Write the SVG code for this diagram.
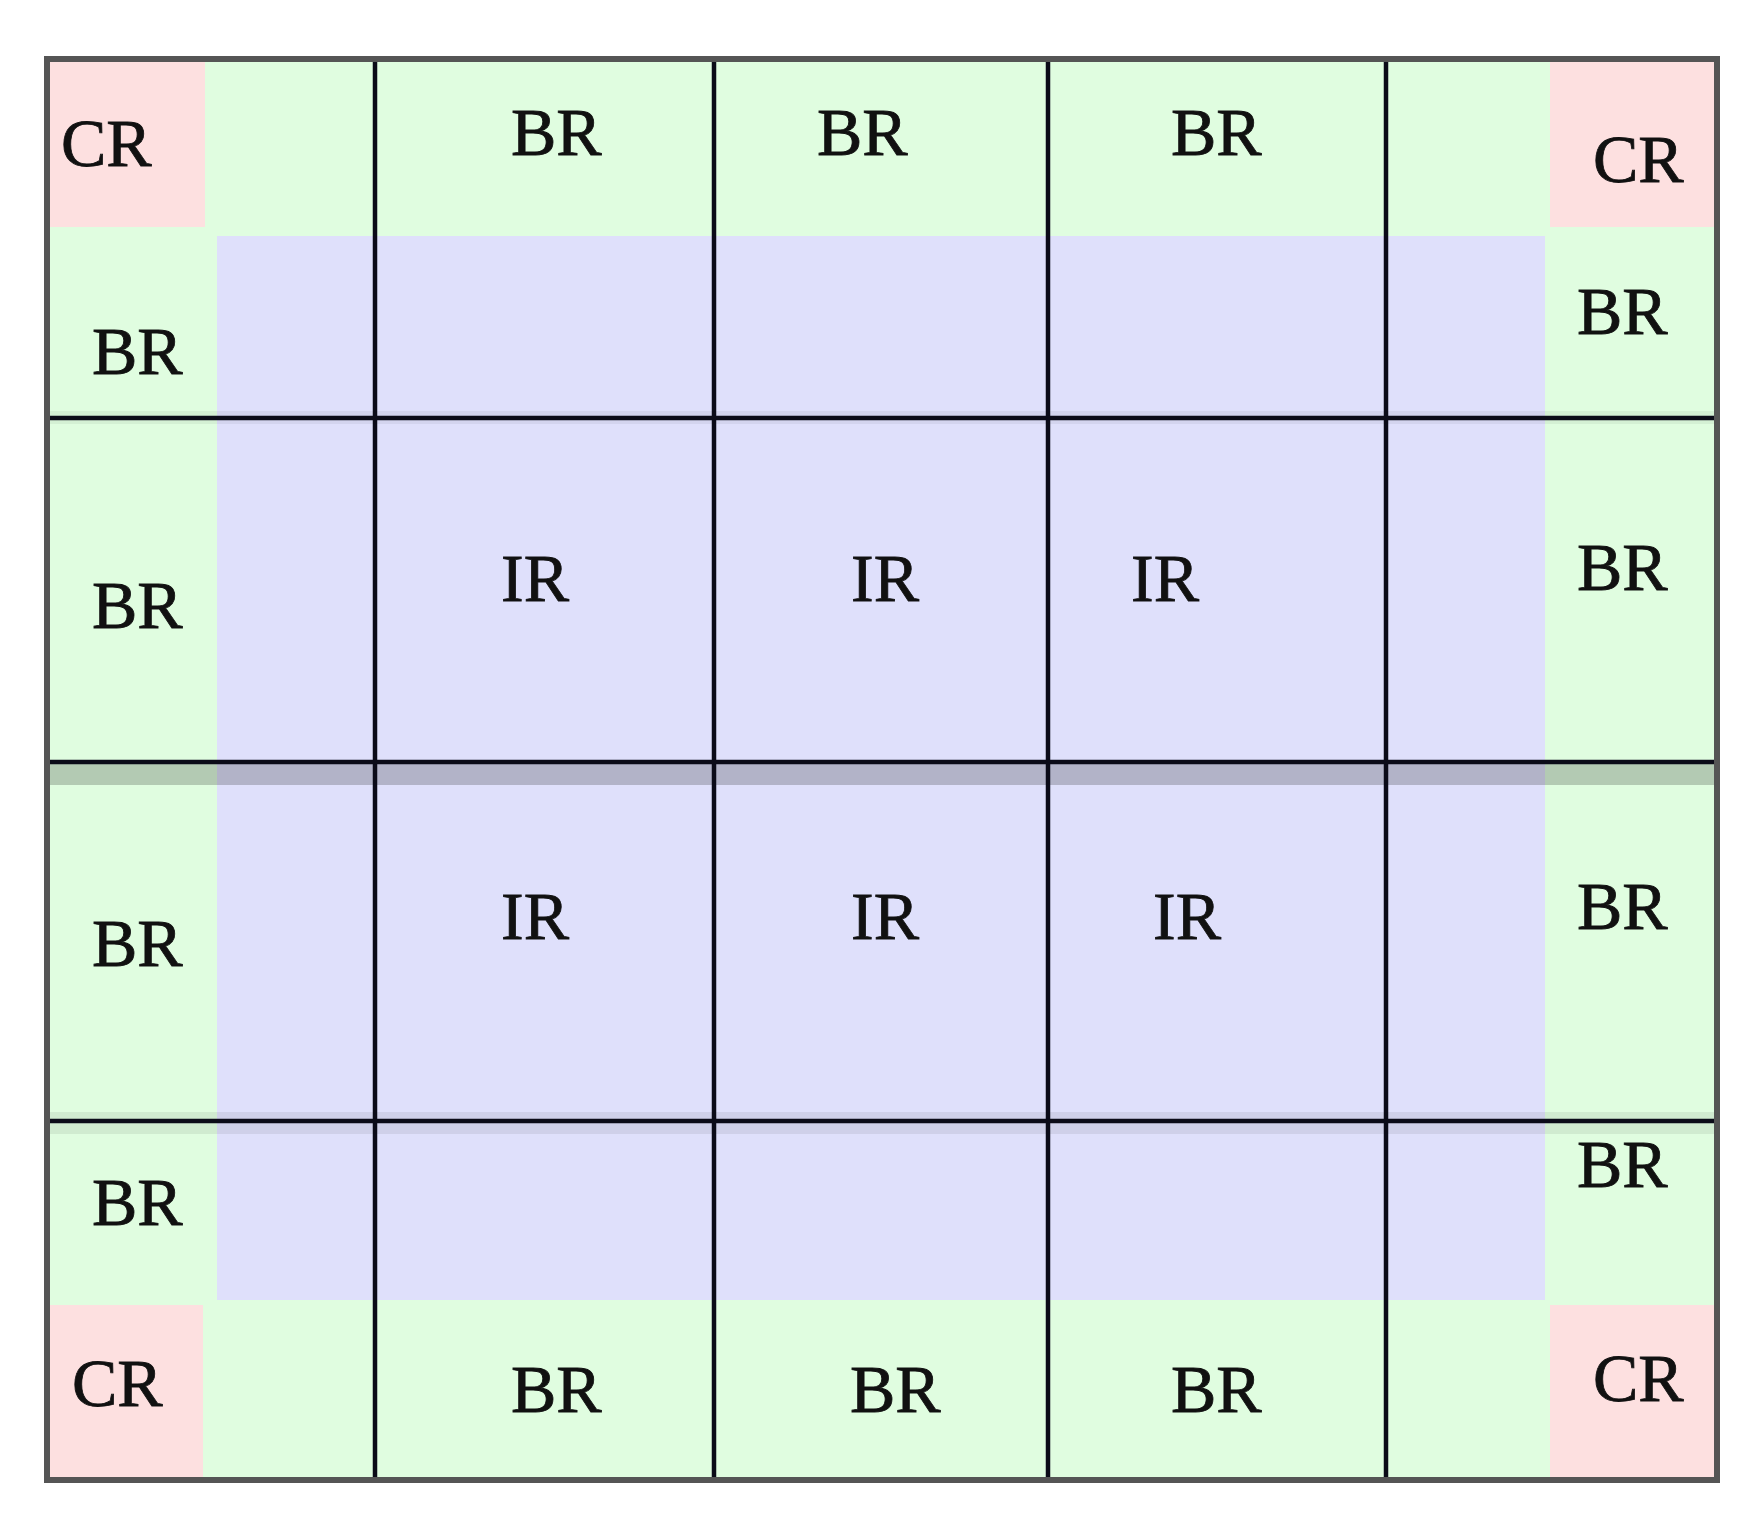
<svg xmlns="http://www.w3.org/2000/svg" width="1757" height="1533" viewBox="0 0 1757 1533">
<style>
.green{fill:#e0fde0}
.blue{fill:#dfe0fb}
.pink{fill:#fde0e0}
.lbl{font-family:"Liberation Serif","Times New Roman",serif;font-size:68px;fill:#111;stroke:#111;stroke-width:0.8}
.grid{stroke:#0b0b18;stroke-width:4.5;fill:none}
.outer{stroke:#555;stroke-width:6;fill:none}
</style>
<rect x="0" y="0" width="1757" height="1533" fill="#ffffff"/>
<g id="regions">
<rect id="boundary-region" class="green" x="47" y="59" width="1670" height="1421"/>
<rect id="interior-region" class="blue" x="217" y="236" width="1328" height="1064"/>
<rect id="corner-tl" class="pink" x="47" y="59" width="158" height="168"/>
<rect id="corner-tr" class="pink" x="1550" y="59" width="167" height="168"/>
<rect id="corner-bl" class="pink" x="47" y="1305" width="156" height="175"/>
<rect id="corner-br" class="pink" x="1550" y="1305" width="167" height="175"/>
</g>
<g id="shading">
<rect x="47" y="764" width="1670" height="21" fill="#000" opacity="0.2"/>
<rect x="47" y="1112" width="1670" height="22" fill="#000" opacity="0.07"/>
<rect x="47" y="411" width="1670" height="13" fill="#000" opacity="0.05"/>
</g>
<g id="connectors">
<line class="grid" x1="375" y1="59" x2="375" y2="1480"/>
<line class="grid" x1="714" y1="59" x2="714" y2="1480"/>
<line class="grid" x1="1048" y1="59" x2="1048" y2="1480"/>
<line class="grid" x1="1386" y1="59" x2="1386" y2="1480"/>
<line class="grid" x1="47" y1="418" x2="1717" y2="418"/>
<line class="grid" x1="47" y1="762" x2="1717" y2="762"/>
<line class="grid" x1="47" y1="1121" x2="1717" y2="1121"/>
<rect class="outer" x="47" y="59" width="1670" height="1421"/>
</g>
<g id="cr-tl"><text class="lbl" x="61" y="166">CR</text></g>
<g id="cr-tr"><text class="lbl" x="1593" y="182">CR</text></g>
<g id="cr-bl"><text class="lbl" x="72" y="1406">CR</text></g>
<g id="cr-br"><text class="lbl" x="1593" y="1401">CR</text></g>
<g id="br-top-1"><text class="lbl" x="511" y="155">BR</text></g>
<g id="br-top-2"><text class="lbl" x="817" y="155">BR</text></g>
<g id="br-top-3"><text class="lbl" x="1171" y="155">BR</text></g>
<g id="br-bottom-1"><text class="lbl" x="511" y="1412">BR</text></g>
<g id="br-bottom-2"><text class="lbl" x="850" y="1412">BR</text></g>
<g id="br-bottom-3"><text class="lbl" x="1171" y="1412">BR</text></g>
<g id="br-left-1"><text class="lbl" x="92" y="374">BR</text></g>
<g id="br-left-2"><text class="lbl" x="92" y="628">BR</text></g>
<g id="br-left-3"><text class="lbl" x="92" y="966">BR</text></g>
<g id="br-left-4"><text class="lbl" x="92" y="1225">BR</text></g>
<g id="br-right-1"><text class="lbl" x="1577" y="334">BR</text></g>
<g id="br-right-2"><text class="lbl" x="1577" y="590">BR</text></g>
<g id="br-right-3"><text class="lbl" x="1577" y="929">BR</text></g>
<g id="br-right-4"><text class="lbl" x="1577" y="1187">BR</text></g>
<g id="ir-1"><text class="lbl" x="501" y="601">IR</text></g>
<g id="ir-2"><text class="lbl" x="851" y="601">IR</text></g>
<g id="ir-3"><text class="lbl" x="1131" y="601">IR</text></g>
<g id="ir-4"><text class="lbl" x="501" y="939">IR</text></g>
<g id="ir-5"><text class="lbl" x="851" y="939">IR</text></g>
<g id="ir-6"><text class="lbl" x="1153" y="939">IR</text></g>
</svg>
